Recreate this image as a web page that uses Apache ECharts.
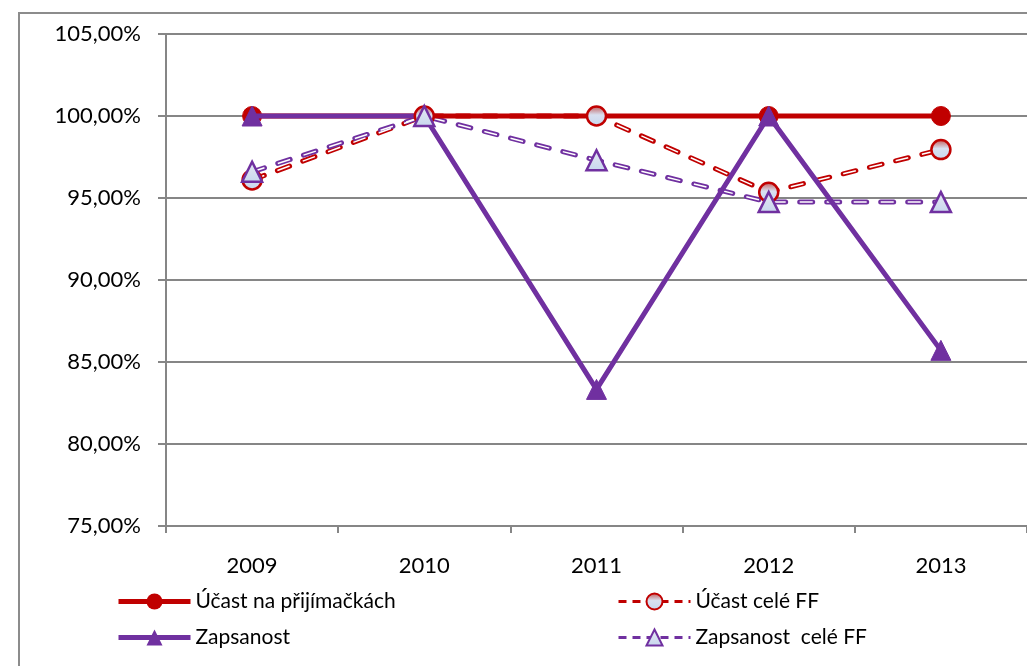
<!DOCTYPE html>
<html>
<head>
<meta charset="utf-8">
<script src="https://cdn.jsdelivr.net/npm/echarts@6/dist/echarts.min.js"></script>
<style>
  html, body { margin: 0; padding: 0; background: #fff; }
  .frame {
    position: absolute;
    left: 18px;
    top: 12px;
    width: 1020px;
    height: 670px;
    border-left: 2px solid #8c8c8c;
    border-top: 2px solid #8c8c8c;
  }
  #chart { position: absolute; left: 0; top: 0; width: 1027px; height: 666px; }
</style>
</head>
<body>
<div class="frame"></div>
<div id="chart"></div>
<script>
const years = ["2009", "2010", "2011", "2012", "2013"];
const ucastPrijimacky = [100, 100, 100, 100, 100];
const ucastFF = [96.1, 100, 100, 95.35, 97.95];
const zapsanost = [100, 100, 83.33, 100, 85.71];
const zapsanostFF = [96.6, 100, 97.3, 94.75, 94.75];

const RED = "#c00000";
const PURPLE = "#7030a0";
const FONT = "Lato, 'Open Sans', sans-serif";
const DASH = [13, 14];

const hollowFill = (top) => new echarts.graphic.LinearGradient(0, 0, 0, 1, [
  { offset: 0, color: top },
  { offset: 0.45, color: "#d9e0f0" },
  { offset: 1, color: "#c6d6ee" },
]);

// dashed "hollow" line in Excel style: thick coloured dash, thin white core, markers on top
function dashedSeries(name, data, color, symbol, size, fillTop) {
  return [
    {
      type: "line",
      data: data,
      symbol: "none",
      silent: true,
      z: 1,
      lineStyle: { color: color, width: 5, type: DASH, cap: "round" },
    },
    {
      type: "line",
      data: data,
      symbol: "none",
      silent: true,
      z: 2,
      lineStyle: { color: "#fff", width: 1.5, type: DASH },
    },
    {
      name: name,
      type: "line",
      data: data,
      symbol: symbol,
      symbolSize: size,
      z: 5,
      lineStyle: { color: color, width: 3, type: [8, 6], opacity: 0 },
      itemStyle: { color: hollowFill(fillTop), borderColor: color, borderWidth: 2.5 },
    },
  ];
}

const legendText = { fontSize: 21, color: "#000", fontFamily: FONT };

const chart = echarts.init(document.getElementById("chart"));

chart.setOption({
  animation: false,
  textStyle: { fontFamily: FONT },
  grid: { left: 166, top: 34, width: 864, height: 492 },
  xAxis: {
    type: "category",
    data: years,
    boundaryGap: true,
    axisLine: { lineStyle: { color: "#868686", width: 2 } },
    axisTick: { show: true, length: 7, lineStyle: { color: "#868686", width: 2 } },
    axisLabel: { color: "#000", fontSize: 22, margin: 29, fontFamily: FONT },
    splitLine: { show: false },
  },
  yAxis: {
    type: "value",
    min: 75,
    max: 105,
    interval: 5,
    axisLine: { show: true, lineStyle: { color: "#868686", width: 2 } },
    axisTick: { show: true, length: 8, lineStyle: { color: "#868686", width: 2 } },
    axisLabel: {
      color: "#000",
      fontSize: 22,
      margin: 25,
      fontFamily: FONT,
      formatter: (v) => v.toFixed(2).replace(".", ",") + "%",
    },
    splitLine: { show: true, lineStyle: { color: "#868686", width: 2 } },
  },
  legend: [
    {
      left: 116,
      top: 591,
      padding: 0,
      orient: "vertical",
      itemWidth: 72,
      itemHeight: 20,
      itemGap: 15,
      textStyle: legendText,
      data: [
        { name: "Účast na přijímačkách", lineStyle: { width: 5 } },
        { name: "Zapsanost", lineStyle: { width: 5 } },
      ],
    },
    {
      left: 617,
      top: 591,
      padding: 0,
      orient: "vertical",
      itemWidth: 72,
      itemHeight: 20,
      itemGap: 15,
      textStyle: legendText,
      data: [
        { name: "Účast celé FF", lineStyle: { opacity: 1, width: 3, color: RED, type: [8, 6] } },
        { name: "Zapsanost  celé FF", lineStyle: { opacity: 1, width: 3, color: PURPLE, type: [8, 6] } },
      ],
    },
  ],
  series: [
    {
      name: "Účast na přijímačkách",
      type: "line",
      data: ucastPrijimacky,
      symbol: "circle",
      symbolSize: 19,
      z: 3,
      lineStyle: { color: RED, width: 5 },
      itemStyle: { color: RED, borderColor: RED },
    },
    {
      name: "Zapsanost",
      type: "line",
      data: zapsanost,
      symbol: "triangle",
      symbolSize: 20,
      z: 4,
      lineStyle: { color: PURPLE, width: 5 },
      itemStyle: { color: PURPLE, borderColor: PURPLE },
    },
    ...dashedSeries("Účast celé FF", ucastFF, RED, "circle", 19, "#c0504d"),
    ...dashedSeries("Zapsanost  celé FF", zapsanostFF, PURPLE, "triangle", 20, "#dfe6f3"),
  ],
});
</script>
</body>
</html>
